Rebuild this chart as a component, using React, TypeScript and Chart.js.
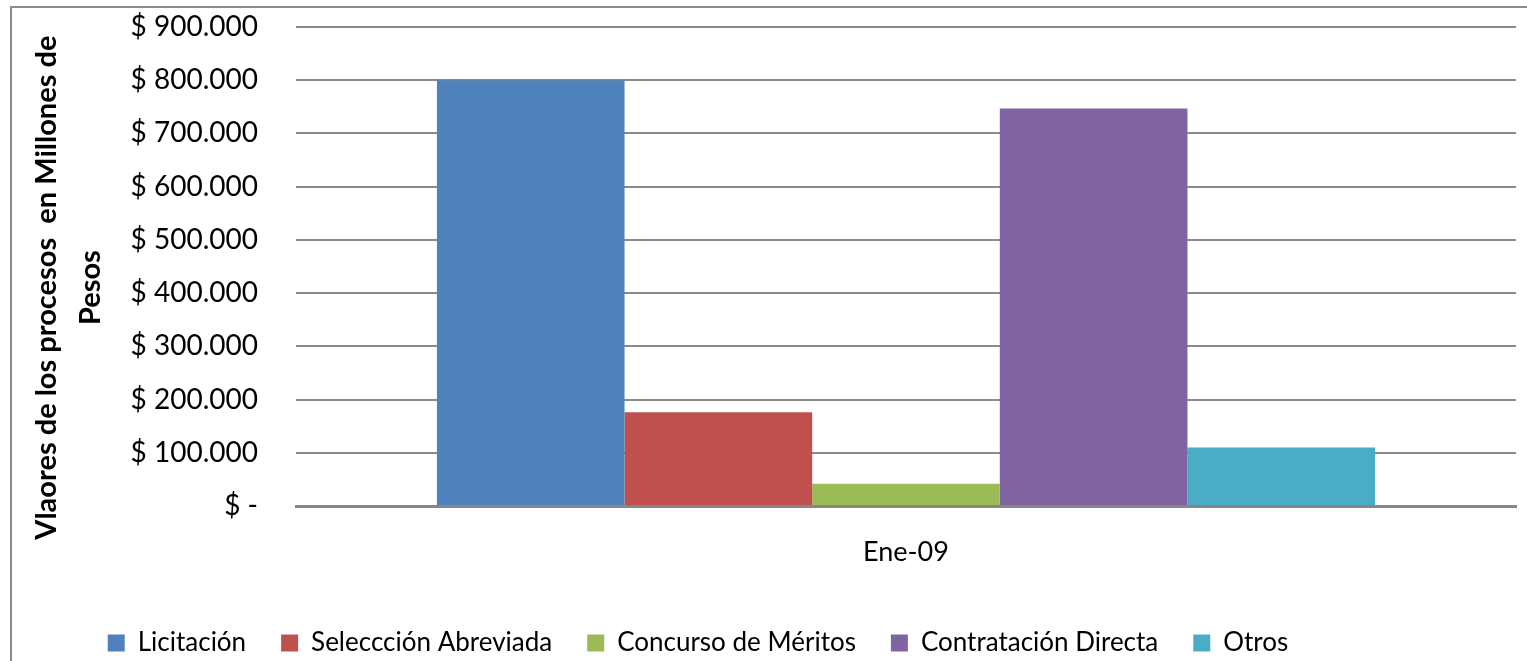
import { useEffect, useRef } from 'react';
import { Chart, registerables } from 'chart.js';

Chart.register(...registerables);

// ---- data ----
const categories = ['Ene-09'];
const seriesNames = ['Licitación', 'Seleccción Abreviada', 'Concurso de Méritos', 'Contratación Directa', 'Otros'];
const licitacion = [800000];
const seleccionAbreviada = [176000];
const concursoMeritos = [42000];
const contratacionDirecta = [747000];
const otros = [110000];
const seriesValues = [licitacion, seleccionAbreviada, concursoMeritos, contratacionDirecta, otros];
const seriesColors = ['#4F81BD', '#C0504D', '#9BBB59', '#8064A2', '#4BACC6'];
const yMin = 0;
const yMax = 900000;
const yStep = 100000;
const yTitle = ['Vlaores de los procesos  en Millones de', 'Pesos'];

const FAMILY = 'Lato, "Liberation Sans", sans-serif';
const TITLE_SHIFT = '      ';

function formatTick(v: number): string {
  if (v === 0) return '$ -';
  const s = Math.round(v).toString().replace(/\B(?=(\d{3})+(?!\d))/g, '.');
  return '$ ' + s;
}

export default function App() {
  const ref = useRef<HTMLCanvasElement>(null);
  useEffect(() => {
    const canvas = ref.current!;
    const chart = new Chart(canvas, {
      type: 'bar',
      data: {
        labels: categories,
        datasets: seriesNames.map((name, i) => ({
          label: name,
          data: seriesValues[i],
          backgroundColor: seriesColors[i],
          borderWidth: 0,
          barPercentage: 1,
          categoryPercentage: 0.769,
        })),
      },
      options: {
        responsive: false,
        animation: false,
        layout: { padding: { left: 0, right: 11, top: 27, bottom: 0 } },
        plugins: {
          legend: {
            position: 'bottom',
            labels: {
              font: { family: FAMILY, size: 26 },
              color: '#000',
              boxWidth: 17,
              boxHeight: 17,
              padding: 35,
            },
          },
          tooltip: { enabled: false },
        },
        scales: {
          x: {
            grid: { display: false, drawTicks: false },
            border: { display: true, color: '#868686', width: 3 },
            ticks: { font: { family: FAMILY, size: 27 }, color: '#000', padding: 30 },
            afterFit: (s: any) => {
              s.height = 89;
            },
          },
          y: {
            min: yMin,
            max: yMax,
            ticks: {
              stepSize: yStep,
              padding: 0,
              font: { family: FAMILY, size: 28 },
              color: '#000',
              callback: (v: any) => formatTick(Number(v)),
            },
            grid: {
              color: '#8a8a8a',
              lineWidth: 2,
              drawTicks: true,
              tickLength: 38,
              tickColor: 'rgba(0,0,0,0)',
            },
            border: { display: false },
            title: {
              display: true,
              text: yTitle.map((t) => t + TITLE_SHIFT),
              font: { family: FAMILY, size: 29, weight: 'bold', lineHeight: 1.5 },
              color: '#000',
              padding: { top: 145, bottom: 0 },
            },
            afterFit: (s: any) => {
              s.width = 416;
            },
          },
        },
      },
    } as any);
    return () => chart.destroy();
  }, []);

  return (
    <div
      style={{
        position: 'fixed',
        left: 0,
        top: 0,
        width: 1527,
        height: 661,
        overflow: 'hidden',
        background: '#fff',
      }}
    >
      <div
        style={{
          position: 'absolute',
          left: 10,
          top: 6,
          width: 1600,
          height: 700,
          border: '2px solid #8c8c8c',
          boxSizing: 'border-box',
        }}
      />
      <canvas
        ref={ref}
        width={1647}
        height={666}
        style={{ position: 'absolute', left: -120, top: 0, width: 1647, height: 666 }}
      />
    </div>
  );
}
